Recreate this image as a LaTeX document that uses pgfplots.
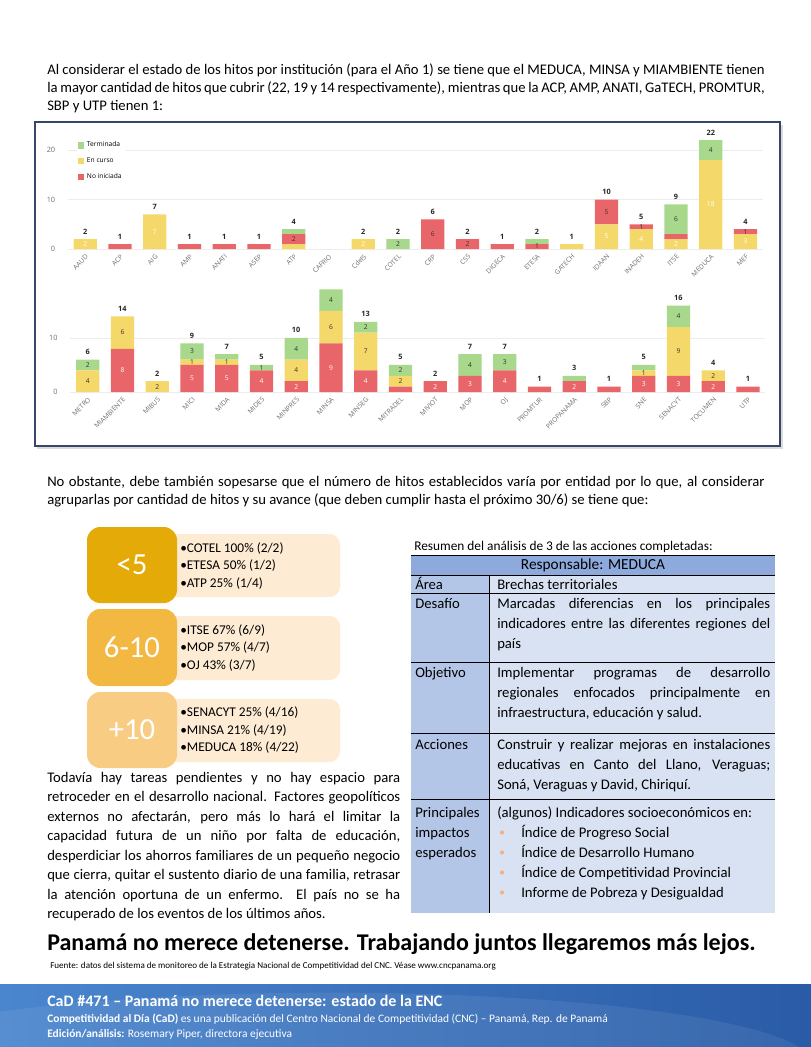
\documentclass[border=0pt]{standalone}
\usepackage{pgfplots}
\pgfplotsset{compat=1.18}
\usepackage{fontspec}
\setmainfont{Carlito}
\newfontfamily\chartfont{Open Sans}

\definecolor{verde}{HTML}{A8D88C}
\definecolor{amarillo}{HTML}{F5D86A}
\definecolor{rojo}{HTML}{E8666A}
\definecolor{marco}{HTML}{37476B}
\definecolor{rejilla}{HTML}{EDEDED}
\definecolor{gristick}{HTML}{6E6E6E}
\definecolor{oro1}{HTML}{E4AA08}
\definecolor{oro2}{HTML}{F3B841}
\definecolor{oro3}{HTML}{F8CC82}
\definecolor{crema}{HTML}{FDEBD4}
\definecolor{tabcab}{HTML}{8EA9DB}
\definecolor{tabizq}{HTML}{B4C6E7}
\definecolor{tabder}{HTML}{D9E2F3}
\definecolor{vineta}{HTML}{F4B183}
\definecolor{azulA}{HTML}{4A86CE}
\definecolor{azulB}{HTML}{2A5BA6}

\newcommand{\chartsz}{\chartfont\fontsize{5}{6}\selectfont}
\newcommand{\jl}[2]{\hbox to #1{#2}}

\pgfplotsset{
  hitos/.style={
    ybar stacked, bar width=0.67,
    scale only axis, width=521.25pt,
    xmin=-0.5, xmax=19.5, ymin=0,
    axis line style={draw=none},
    major tick length=0pt,
    xtick={0,...,19},
    ymajorgrids, grid style={rejilla, line width=0.6pt},
    xticklabel style={yshift=-2pt, rotate=45, anchor=north east, font=\chartsz, text=gristick, inner sep=1pt},
    yticklabel style={font=\chartfont\fontsize{5.5}{6}\selectfont, text=gristick, xshift=-6pt},
    /pgf/number format/assume math mode=true,
    clip=false,
  },
  % capa transparente con las etiquetas de los segmentos y los totales
  etiq/.style={scale only axis, width=521.25pt, xmin=-0.5, xmax=19.5, ymin=0, hide axis, clip=false},
  lab/.style={draw=none, mark=none, point meta=explicit symbolic,
    nodes near coords={\pgfplotspointmeta},
    every node near coord/.style={anchor=center, font=\chartsz, text=#1, inner sep=0pt}},
  tot/.style={draw=none, mark=none, point meta=explicit symbolic,
    nodes near coords={\pgfplotspointmeta},
    every node near coord/.style={anchor=south, font=\chartfont\fontsize{5.5}{6}\selectfont\bfseries, text=black!85, inner sep=0pt, yshift=3.5pt}},
}

\begin{document}
\begin{tikzpicture}[x=0.75pt, y=-0.75pt,
  txt/.style={anchor=base west, inner sep=0pt, font=\fontsize{11}{13.5}\selectfont},
  itm/.style={anchor=base west, inner sep=0pt, font=\fontsize{10}{12}\selectfont},
  big/.style={text=white, inner sep=0pt, font=\fontsize{23}{26}\selectfont}]
\useasboundingbox (0,0) rectangle (811,1047);
\fill[white] (0,0) rectangle (811,1047);
\coordinate (axsup) at (67.9,249);
\coordinate (axinf) at (70.3,392);

% texto introductorio
\node[txt] at (47,74.5) {\jl{538pt}{Al considerar el estado de los hitos por institución (para el Año 1) se tiene que el MEDUCA, MINSA y MIAMBIENTE tienen}};
\node[txt] at (47,92.5) {\jl{538pt}{la mayor cantidad de hitos que cubrir (22, 19 y 14 respectivamente), mientras que la ACP, AMP, ANATI, GaTECH, PROMTUR,}};
\node[txt] at (47,110.5) {SBP y UTP tienen 1:};

% marco de los graficos
\fill[black!14] (37,124.5) rectangle (782.5,448.5);
\fill[white] (35,122) rectangle (780,446);
\draw[marco, line width=1.4pt] (35,122) rectangle (780,446);

% grafico superior: En curso, No iniciada, Terminada
\begin{axis}[hitos, at={(axsup)}, anchor=south west, height=87.6pt, ymax=23.6, ytick={0,10,20},
  xticklabels={AAUD,ACP,AIG,AMP,ANATI,ASEP,ATP,CAFRIO,CdelS,COTEL,CRP,CSS,DIGECA,ETESA,GATECH,IDAAN,INADEH,ITSE,MEDUCA,MEF},
  legend style={at={(axis cs:-0.25,22.5)}, anchor=north west, draw=none, fill=white, font=\chartsz,
    row sep=2.6pt, inner sep=1pt, cells={anchor=west}},
  legend image code/.code={\fill[#1] (0pt,-2.3pt) rectangle (4.6pt,2.3pt);}]
\addlegendimage{fill=verde, draw=none}\addlegendentry{Terminada}
\addlegendimage{fill=amarillo, draw=none}\addlegendentry{En curso}
\addlegendimage{fill=rojo, draw=none}\addlegendentry{No iniciada}
\addplot[draw=none, fill=amarillo] coordinates {(0,2) (1,0) (2,7) (3,0) (4,0) (5,0) (6,1) (7,0) (8,2) (9,0) (10,0) (11,0) (12,0) (13,0) (14,1) (15,5) (16,4) (17,2) (18,18) (19,3)};
\addplot[draw=none, fill=rojo] coordinates {(0,0) (1,1) (2,0) (3,1) (4,1) (5,1) (6,2) (7,0) (8,0) (9,0) (10,6) (11,2) (12,1) (13,1) (14,0) (15,5) (16,1) (17,1) (18,0) (19,1)};
\addplot[draw=none, fill=verde] coordinates {(0,0) (1,0) (2,0) (3,0) (4,0) (5,0) (6,1) (7,0) (8,0) (9,2) (10,0) (11,0) (12,0) (13,1) (14,0) (15,0) (16,0) (17,6) (18,4) (19,0)};
\end{axis}
\begin{axis}[etiq, at={(axsup)}, anchor=south west, height=87.6pt, ymax=23.6]
\addplot[lab=white] coordinates {(0,1)[2] (2,3.5)[7] (8,1)[2] (15,2.5)[5] (16,2)[4] (17,1)[2] (18,9)[18] (19,1.5)[3]};
\addplot[lab=black!80] coordinates {(6,2)[2] (10,3)[6] (11,1)[2] (13,0.5)[1] (15,7.5)[5] (16,4.5)[1] (19,3.5)[1]};
\addplot[lab=black!80] coordinates {(9,1)[2] (17,6)[6] (18,20)[4]};
\addplot[tot] coordinates {(0,2)[2] (1,1)[1] (2,7)[7] (3,1)[1] (4,1)[1] (5,1)[1] (6,4)[4] (8,2)[2] (9,2)[2] (10,6)[6] (11,2)[2] (12,1)[1] (13,2)[2] (14,1)[1] (15,10)[10] (16,5)[5] (17,9)[9] (18,22)[22] (19,4)[4]};
\end{axis}

% grafico inferior: No iniciada, En curso, Terminada
\begin{axis}[hitos, at={(axinf)}, anchor=south west, height=78.2pt, ymax=19.3, ytick={0,10},
  xticklabels={METRO,MIAMBIENTE,MIBUS,MICI,MIDA,MIDES,MINPRES,MINSA,MINSEG,MITRADEL,MIVIOT,MOP,OJ,PROMTUR,PROPANAMA,SBP,SNE,SENACYT,TOCUMEN,UTP}]
\addplot[draw=none, fill=rojo] coordinates {(0,0) (1,8) (2,0) (3,5) (4,5) (5,4) (6,2) (7,9) (8,4) (9,1) (10,2) (11,3) (12,4) (13,1) (14,2) (15,1) (16,3) (17,3) (18,2) (19,1)};
\addplot[draw=none, fill=amarillo] coordinates {(0,4) (1,6) (2,2) (3,1) (4,1) (5,0) (6,4) (7,6) (8,7) (9,2) (10,0) (11,0) (12,0) (13,0) (14,0) (15,0) (16,1) (17,9) (18,2) (19,0)};
\addplot[draw=none, fill=verde] coordinates {(0,2) (1,0) (2,0) (3,3) (4,1) (5,1) (6,4) (7,4) (8,2) (9,2) (10,0) (11,4) (12,3) (13,0) (14,1) (15,0) (16,1) (17,4) (18,0) (19,0)};
\end{axis}
\begin{axis}[etiq, at={(axinf)}, anchor=south west, height=78.2pt, ymax=19.3]
\addplot[lab=white] coordinates {(1,4)[8] (3,2.5)[5] (4,2.5)[5] (5,2)[4] (6,1)[2] (7,4.5)[9] (8,2)[4] (10,1)[2] (11,1.5)[3] (12,2)[4] (14,1)[2] (16,1.5)[3] (17,1.5)[3] (18,1)[2]};
\addplot[lab=black!80] coordinates {(0,2)[4] (1,11)[6] (2,1)[2] (3,5.5)[1] (4,5.5)[1] (6,4)[4] (7,12)[6] (8,7.5)[7] (9,2)[2] (16,3.5)[1] (17,7.5)[9] (18,3)[2]};
\addplot[lab=black!80] coordinates {(0,5)[2] (3,7.5)[3] (5,4.5)[1] (6,8)[4] (7,17)[4] (8,12)[2] (9,4)[2] (11,5)[4] (12,5.5)[3] (17,14)[4]};
\addplot[tot] coordinates {(0,6)[6] (1,14)[14] (2,2)[2] (3,9)[9] (4,7)[7] (5,5)[5] (6,10)[10] (8,13)[13] (9,5)[5] (10,2)[2] (11,7)[7] (12,7)[7] (13,1)[1] (14,3)[3] (15,1)[1] (16,5)[5] (17,16)[16] (18,4)[4] (19,1)[1]};
\end{axis}

% segundo parrafo
\node[txt] at (47,486.5) {\jl{538pt}{No obstante, debe también sopesarse que el número de hitos establecidos varía por entidad por lo que, al considerar}};
\node[txt] at (47,504.5) {agruparlas por cantidad de hitos y su avance (que deben cumplir hasta el próximo 30/6) se tiene que:};

% cajas por cantidad de hitos
\fill[crema, rounded corners=8] (165,534) rectangle (340,597);
\fill[oro1, rounded corners=10] (87,527) rectangle (177,603);
\node[big] at (132,565) {<5};
\node[itm] at (180,552) {•COTEL 100\% (2/2)};
\node[itm] at (180,569.5) {•ETESA 50\% (1/2)};
\node[itm] at (180,587) {•ATP 25\% (1/4)};

\fill[crema, rounded corners=8] (165,616) rectangle (340,680);
\fill[oro2, rounded corners=10] (87,609) rectangle (177,686);
\node[big] at (132,647) {6-10};
\node[itm] at (180,634) {•ITSE 67\% (6/9)};
\node[itm] at (180,651.5) {•MOP 57\% (4/7)};
\node[itm] at (180,669) {•OJ 43\% (3/7)};

\fill[crema, rounded corners=8] (165,699) rectangle (340,762);
\fill[oro3, rounded corners=10] (87,692) rectangle (177,768);
\node[big] at (132,730) {+10};
\node[itm] at (180,716.5) {•SENACYT 25\% (4/16)};
\node[itm] at (180,734) {•MINSA 21\% (4/19)};
\node[itm] at (180,751.5) {•MEDUCA 18\% (4/22)};

% tabla resumen
\node[anchor=base west, inner sep=0pt, font=\fontsize{10}{12}\selectfont] at (414,550.5) {Resumen del análisis de 3 de las acciones completadas:};
\fill[tabcab] (411,555) rectangle (775,575);
\fill[tabizq] (411,575) rectangle (489,913);
\fill[tabder] (489,575) rectangle (775,913);
\foreach \yy in {555,575,593,662,733,799} \draw[black, line width=0.6pt] (411,\yy) -- (775,\yy);
\draw[black, line width=0.6pt] (489,575) -- (489,913);
\node[anchor=base, inner sep=0pt, font=\fontsize{11.5}{13}\selectfont] at (593,569.5) {Responsable: MEDUCA};

\node[txt] at (415,589) {Área};
\node[txt] at (497,589) {Brechas territoriales};
\node[txt] at (415,608) {Desafío};
\node[txt] at (497,608) {\jl{204.75pt}{Marcadas diferencias en los principales}};
\node[txt] at (497,628) {\jl{204.75pt}{indicadores entre las diferentes regiones del}};
\node[txt] at (497,648) {país};
\node[txt] at (415,677) {Objetivo};
\node[txt] at (497,677) {\jl{204.75pt}{Implementar programas de desarrollo}};
\node[txt] at (497,697) {\jl{204.75pt}{regionales enfocados principalmente en}};
\node[txt] at (497,717) {infraestructura, educación y salud.};
\node[txt] at (415,749) {Acciones};
\node[txt] at (497,749) {\jl{204.75pt}{Construir y realizar mejoras en instalaciones}};
\node[txt] at (497,769) {\jl{204.75pt}{educativas en Canto del Llano, Veraguas;}};
\node[txt] at (497,789) {Soná, Veraguas y David, Chiriquí.};
\node[txt] at (415,817) {Principales};
\node[txt] at (415,837) {impactos};
\node[txt] at (415,857) {esperados};
\node[txt] at (497,817) {(algunos) Indicadores socioeconómicos en:};
\foreach \yy/\tt in {837/Índice de Progreso Social, 857/Índice de Desarrollo Humano, 877/Índice de Competitividad Provincial, 897/Informe de Pobreza y Desigualdad} {
  \fill[vineta] (502,\yy-4.5) circle[radius=1.6pt];
  \node[txt] at (521,\yy) {\tt};
}

% parrafo final
\node[txt] at (47,782) {\jl{264.75pt}{Todavía hay tareas pendientes y no hay espacio para}};
\node[txt] at (47,801.5) {\jl{264.75pt}{retroceder en el desarrollo nacional. Factores geopolíticos}};
\node[txt] at (47,821) {\jl{264.75pt}{externos no afectarán, pero más lo hará el limitar la}};
\node[txt] at (47,840.5) {\jl{264.75pt}{capacidad futura de un niño por falta de educación,}};
\node[txt] at (47,860) {\jl{264.75pt}{desperdiciar los ahorros familiares de un pequeño negocio}};
\node[txt] at (47,879.5) {\jl{264.75pt}{que cierra, quitar el sustento diario de una familia, retrasar}};
\node[txt] at (47,899) {\jl{264.75pt}{la atención oportuna de un enfermo.\ \ El país no se ha}};
\node[txt] at (47,918.5) {recuperado de los eventos de los últimos años.};

\node[anchor=base west, inner sep=0pt, font=\fontsize{18}{21}\selectfont\bfseries] at (47,950) {Panamá no merece detenerse. Trabajando juntos llegaremos más lejos.};
\node[anchor=base west, inner sep=0pt, font=\fontsize{6.8}{8}\selectfont] at (50,968) {Fuente: datos del sistema de monitoreo de la Estrategia Nacional de Competitividad del CNC. Véase www.cncpanama.org};

% pie
\shade[left color=azulA, right color=azulB] (0,984) rectangle (811,1047);
\begin{scope}
\clip (0,984) rectangle (811,1047);
\fill[white, opacity=0.07] (330,1062) ellipse[x radius=360pt, y radius=52pt];
\end{scope}
\node[anchor=base west, inner sep=0pt, text=white, font=\fontsize{12}{14}\selectfont\bfseries] at (47,1006) {CaD \#471 – Panamá no merece detenerse: estado de la ENC};
\node[anchor=base west, inner sep=0pt, text=white, font=\fontsize{8.6}{10}\selectfont] at (47,1022.5) {\textbf{Competitividad al Día (CaD)} es una publicación del Centro Nacional de Competitividad (CNC) – Panamá, Rep. de Panamá};
\node[anchor=base west, inner sep=0pt, text=white, font=\fontsize{8.6}{10}\selectfont] at (47,1037.5) {\textbf{Edición/análisis:} Rosemary Piper, directora ejecutiva};
\end{tikzpicture}
\end{document}
